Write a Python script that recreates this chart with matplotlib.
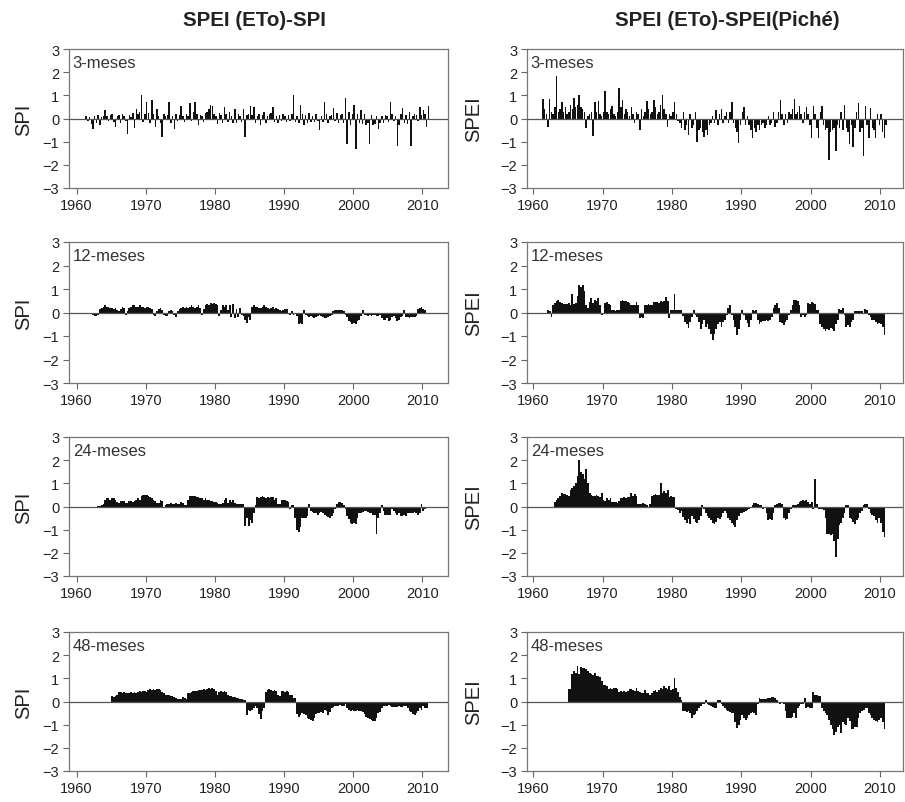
import numpy as np
import matplotlib
matplotlib.use("Agg")
import matplotlib.pyplot as plt

plt.rcParams['font.family'] = ['Liberation Sans', 'DejaVu Sans']

# quarterly values, one row per year
# SPEI(ETo) - SPI
spi_3_start = 1961.0
spi_3 = [
    0.00, 0.10, -0.10, 0.05,    -0.25, -0.45, 0.10, -0.20,   0.15, -0.30, 0.05, 0.10,
    0.35, 0.10, -0.10, 0.15,    0.20, -0.15, -0.35, 0.10,    0.15, -0.20, 0.20, 0.10,
    -0.10, -0.65, 0.15, 0.05,   0.25, -0.40, 0.40, 0.20,     0.30, 1.00, -0.15, 0.20,
    0.70, 0.25, -0.20, 0.80,    0.20, -0.35, 0.40, 0.10,     -0.20, -0.80, 0.20, 0.10,
    0.15, 0.70, -0.20, 0.10,    -0.45, 0.20, -0.10, 0.15,    0.55, 0.10, -0.15, 0.20,
    0.10, 0.65, -0.10, 0.30,    0.70, 0.20, -0.30, 0.15,     0.10, -0.15, 0.25, 0.30,
    0.40, 0.60, 0.55, 0.20,     0.10, -0.25, 0.25, 0.15,     -0.20, 0.50, 0.20, -0.15,
    0.30, 0.10, -0.20, 0.40,    -0.20, 0.20, 0.10, -0.15,    0.40, -0.80, 0.15, 0.20,
    0.55, 0.15, 0.50, -0.20,    0.10, 0.20, -0.30, 0.15,     0.30, -0.20, 0.10, 0.20,
    0.25, 0.50, -0.15, 0.10,    -0.20, 0.15, -0.10, 0.20,    0.10, -0.15, 0.15, -0.10,
    0.20, 1.00, -0.15, 0.10,    -0.20, 0.60, 0.20, -0.30,    0.15, -0.20, 0.25, -0.15,
    0.10, -0.15, 0.20, -0.10,   -0.50, 0.10, -0.15, 0.70,    0.20, -0.20, 0.10, 0.15,
    0.45, -0.10, 0.25, -0.20,   0.15, 0.20, -0.20, 0.90,     -1.10, 0.30, -0.30, 0.20,
    0.60, -1.30, 0.20, -0.20,   0.35, -0.25, 0.20, -0.30,    -0.20, -1.10, 0.15, -0.30,
    -0.25, 0.10, -0.45, -0.20,  0.10, -0.20, 0.15, 0.10,     -0.15, 0.70, 0.20, -0.10,
    0.10, -1.20, -0.30, 0.20,   0.45, -0.20, 0.15, -0.25,    0.30, -1.20, 0.10, 0.20,
    0.15, -0.10, 0.50, 0.15,    0.35, 0.20, -0.35, 0.55,
]
spi_12_start = 1962.0
spi_12 = [
    -0.05, -0.10, -0.15, -0.15,  -0.10, 0.15, 0.20, 0.25,    0.30, 0.25, 0.25, 0.20,
    0.20, 0.15, 0.20, 0.10,      0.05, 0.15, 0.25, 0.20,     -0.10, 0.05, 0.20, 0.25,
    0.30, 0.30, 0.25, 0.25,      0.30, 0.25, 0.25, 0.20,     0.25, 0.25, 0.20, 0.15,
    -0.10, -0.15, 0.05, 0.15,    0.20, 0.10, -0.10, -0.15,   -0.15, 0.05, 0.10, 0.05,
    -0.10, -0.20, 0.05, 0.15,    0.20, 0.25, 0.20, 0.25,     0.20, 0.25, 0.30, 0.25,
    0.20, 0.25, 0.30, 0.20,      -0.10, 0.15, 0.30, 0.35,    0.30, 0.40, 0.35, 0.40,
    0.35, 0.30, -0.15, 0.10,     0.30, 0.25, 0.30, 0.10,     0.30, -0.20, 0.35, -0.25,
    0.15, -0.20, 0.20, -0.10,    -0.15, -0.30, -0.45, -0.20, -0.30, 0.25, 0.30, 0.25,
    0.25, 0.20, 0.20, 0.25,      0.30, 0.25, 0.20, 0.15,     0.20, 0.25, 0.15, 0.20,
    0.15, 0.10, 0.05, 0.10,      0.15, 0.15, -0.05, -0.10,   0.05, -0.10, -0.05, -0.15,
    -0.50, -0.45, -0.50, 0.10,   -0.10, -0.15, -0.20, -0.15, -0.20, -0.25, -0.20, -0.15,
    -0.10, -0.15, -0.20, -0.25,  -0.25, -0.20, -0.15, -0.10, 0.05, 0.10, 0.10, 0.10,
    0.10, 0.10, 0.05, -0.10,     -0.20, -0.35, -0.40, -0.50, -0.45, -0.50, -0.35, -0.30,
    -0.15, 0.10, -0.10, -0.10,   -0.15, -0.10, -0.15, -0.10, -0.10, -0.15, -0.15, -0.10,
    -0.25, -0.30, -0.30, -0.25,  -0.35, -0.30, -0.20, -0.15, -0.25, -0.35, -0.30, -0.20,
    -0.15, 0.10, -0.20, -0.20,   -0.25, -0.20, -0.20, -0.20, -0.15, 0.15, 0.20, 0.25,
    0.15, 0.10,
]
spi_24_start = 1963.0
spi_24 = [
    0.02, 0.02, 0.05, 0.10,      0.30, 0.35, 0.35, 0.30,     0.35, 0.35, 0.30, 0.20,
    0.15, 0.25, 0.25, 0.25,      0.15, 0.15, 0.25, 0.25,     0.20, 0.25, 0.30, 0.35,
    0.30, 0.45, 0.50, 0.50,      0.50, 0.45, 0.40, 0.35,     0.30, 0.25, 0.15, 0.15,
    0.30, 0.25, -0.05, 0.05,     0.10, 0.10, 0.15, 0.10,     0.10, 0.15, 0.10, 0.10,
    0.20, 0.15, 0.05, 0.05,      0.30, 0.45, 0.45, 0.45,     0.45, 0.40, 0.40, 0.35,
    0.35, 0.30, 0.35, 0.30,      0.30, 0.25, 0.25, 0.20,     0.20, 0.15, 0.10, 0.10,
    0.15, 0.30, 0.35, 0.15,      0.30, 0.20, 0.30, 0.15,     0.10, 0.10, 0.10, 0.10,
    0.10, -0.85, -0.50, -0.85,   -0.60, -0.70, -0.30, 0.05,  0.40, 0.35, 0.40, 0.45,
    0.40, 0.35, 0.40, 0.35,      0.40, 0.40, 0.30, 0.35,     0.10, 0.10, 0.30, 0.30,
    0.30, 0.25, 0.20, -0.10,     0.05, 0.05, -0.50, -1.00,   -1.10, -0.90, -0.50, -0.50,
    -0.50, -0.40, 0.10, -0.20,   -0.25, -0.30, -0.30, -0.35, -0.30, -0.25, -0.30, -0.35,
    -0.40, -0.45, -0.50, -0.40,  -0.30, -0.10, 0.10, 0.20,   0.20, 0.15, 0.05, -0.10,
    -0.40, -0.55, -0.70, -0.75,  -0.70, -0.75, -0.50, -0.30, -0.30, -0.25, -0.20, -0.20,
    -0.25, -0.30, -0.30, -0.35,  -0.35, -1.20, -0.50, -0.30, 0.05, -0.20, -0.35, -0.35,
    -0.35, -0.35, -0.10, -0.20,  -0.30, -0.35, -0.30, -0.40, -0.40, -0.35, -0.40, -0.30,
    -0.30, -0.30, -0.30, -0.25,  -0.30, -0.35, -0.30, 0.10,  -0.20, -0.10,
]
spi_48_start = 1965.0
spi_48 = [
    0.25, 0.20, 0.25, 0.30,      0.40, 0.40, 0.35, 0.40,     0.35, 0.35, 0.35, 0.40,
    0.35, 0.40, 0.35, 0.40,      0.45, 0.40, 0.45, 0.45,     0.40, 0.50, 0.55, 0.50,
    0.55, 0.50, 0.55, 0.55,      0.50, 0.40, 0.35, 0.30,     0.30, 0.30, 0.25, 0.25,
    0.20, 0.15, 0.10, 0.10,      0.10, 0.20, 0.15, 0.10,     0.35, 0.35, 0.40, 0.45,
    0.45, 0.45, 0.50, 0.50,      0.50, 0.55, 0.50, 0.55,     0.60, 0.55, 0.60, 0.55,
    0.45, 0.30, 0.40, 0.45,      0.40, 0.45, 0.40, 0.30,     0.25, 0.25, 0.20, 0.20,
    0.15, 0.15, 0.10, 0.10,      0.05, 0.05, -0.60, -0.35,   -0.40, -0.35, -0.30, -0.20,
    -0.30, -0.55, -0.75, -0.40,  -0.30, 0.40, 0.50, 0.55,    0.50, 0.45, 0.50, 0.45,
    0.30, 0.25, 0.45, 0.45,      0.40, 0.45, 0.40, 0.30,     0.30, 0.15, 0.15, -0.55,
    -0.65, -0.60, -0.50, -0.55,  -0.60, -0.70, -0.75, -0.80, -0.85, -0.70, -0.55, -0.50,
    -0.50, -0.45, -0.50, -0.35,  -0.40, -0.60, -0.45, -0.30, -0.25, -0.20, -0.20, -0.20,
    -0.15, -0.20, -0.20, -0.10,  -0.30, -0.35, -0.40, -0.35, -0.40, -0.40, -0.35, -0.40,
    -0.40, -0.45, -0.55, -0.65,  -0.70, -0.75, -0.80, -0.85, -0.85, -0.70, -0.50, -0.45,
    -0.30, -0.20, -0.20, -0.20,  -0.15, -0.20, -0.25, -0.25, -0.25, -0.25, -0.20, -0.25,
    -0.25, -0.20, -0.20, -0.30,  -0.40, -0.45, -0.55, -0.60, -0.50, -0.40, -0.30, -0.35,
    -0.20, -0.30, -0.30,
]

# SPEI(ETo) - SPEI(Piché)
spei_3_start = 1961.0
spei_3 = [
    0.00, 0.85, 0.40, 0.20,      -0.35, 0.85, 0.30, 0.20,    0.50, 1.85, 0.30, 0.40,
    0.70, 0.30, 0.50, 0.20,      0.30, 0.60, 0.40, 0.90,     0.50, 0.60, 1.00, 0.50,
    0.40, 0.30, -0.40, 0.10,     0.20, 0.30, -0.75, 0.70,    0.30, 0.75, 0.20, 0.10,
    0.30, 1.20, 0.30, 0.20,      0.40, 0.55, 0.20, 0.10,     0.30, 1.30, 0.50, 0.80,
    0.20, 0.40, 0.30, 0.10,      0.50, 0.20, -0.20, 0.30,    0.20, -0.50, 0.40, 0.10,
    0.30, 0.75, 0.40, 0.20,      0.30, 0.80, 0.50, 0.20,     0.30, 0.60, 1.00, 0.40,
    0.20, -0.35, 0.20, 0.10,     0.30, 0.70, 0.20, -0.10,    -0.20, -0.40, 0.30, -0.50,
    -0.30, -0.70, 0.20, -0.40,   -0.30, 0.30, -1.00, -0.50,  -0.40, -0.60, -0.80, -0.50,
    -0.70, -0.30, -0.20, 0.10,   -0.20, 0.35, -0.30, 0.20,   0.40, -0.20, 0.10, 0.30,
    -0.20, 0.30, 0.70, -0.20,    -0.40, -0.60, -1.05, -0.30, 0.30, 0.50, -0.30, 0.10,
    -0.30, -0.50, -0.85, -0.40,  -0.60, -0.30, -0.50, -0.30, -0.20, -0.40, -0.30, 0.10,
    -0.30, -0.20, 0.30, -0.35,   -0.20, 0.30, 0.80, 0.20,    -0.30, 0.20, -0.20, 0.30,
    0.20, 0.40, 0.85, 0.20,      0.30, 0.55, 0.20, -0.20,    0.30, 0.50, 0.20, -0.30,
    -0.85, 0.55, 0.20, -0.40,    -0.85, 0.30, 0.55, -0.30,   -0.50, -0.40, -1.80, -0.60,
    -0.50, -0.40, -1.40, -0.30,  -0.40, 0.30, -0.50, 0.60,   -0.40, -0.60, -1.10, -0.30,
    -1.25, -0.40, 0.30, 0.65,    -0.60, -0.40, -1.60, 0.55,  -0.30, -0.85, 0.45, -0.40,
    -0.50, -0.85, 0.20, -0.30,   0.20, -0.60, -0.85, -0.30,
]
spei_12_start = 1962.0
spei_12 = [
    0.10, 0.05, -0.20, 0.30,     0.40, 0.50, 0.55, 0.45,     0.40, 0.35, 0.35, 0.35,
    0.40, 0.30, 0.80, 0.35,      0.40, 0.70, 1.15, 1.10,     1.15, 0.90, 0.30, 0.20,
    0.45, 0.60, 0.40, 0.55,      0.50, 0.60, 0.30, -0.10,    -0.05, 0.40, 0.45, 0.35,
    0.30, 0.10, 0.10, 0.05,      0.10, 0.10, 0.50, 0.55,     0.50, 0.50, 0.45, 0.40,
    0.30, 0.30, 0.30, 0.45,      0.30, -0.25, -0.20, -0.25,  0.30, 0.30, 0.35, 0.30,
    0.30, 0.45, 0.45, 0.45,      0.40, 0.50, 0.45, 0.50,     0.65, 0.50, -0.25, 0.10,
    0.10, 0.80, 0.10, 0.10,      0.10, 0.10, -0.15, -0.40,   -0.50, -0.65, -0.40, -0.20,
    0.10, -0.10, -0.20, -0.40,   -0.70, -0.50, -0.30, -0.60, -0.50, -0.70, -0.90, -1.15,
    -0.90, -0.70, -0.50, -0.40,  -0.60, -0.40, -0.30, -0.10, 0.20, 0.30, -0.10, -0.30,
    -0.60, -0.95, -0.70, -0.30,  0.10, -0.10, -0.30, -0.45,  -0.60, -0.30, 0.10, 0.05,
    0.10, -0.30, -0.50, -0.40,   -0.35, -0.35, -0.30, -0.35, -0.30, -0.20, 0.20, 0.30,
    0.40, 0.20, -0.40, -0.45,    -0.55, -0.40, -0.30, -0.10, 0.10, 0.30, 0.55, 0.55,
    0.50, 0.30, -0.20, -0.10,    -0.20, -0.10, 0.40, 0.35,   0.45, 0.40, 0.35, 0.10,
    0.10, -0.50, -0.60, -0.70,   -0.80, -0.70, -0.75, -0.65, -0.70, -0.80, -0.50, -0.30,
    0.15, 0.10, 0.20, -0.10,     -0.60, -0.55, -0.60, -0.40, -0.30, 0.05, 0.05, 0.05,
    0.05, 0.05, -0.05, 0.15,     0.10, -0.10, -0.20, -0.30,  -0.30, -0.40, -0.50, -0.45,
    -0.50, -0.60, -0.95,
]
spei_24_start = 1963.0
spei_24 = [
    0.20, 0.30, 0.35, 0.45,      0.60, 0.55, 0.55, 0.50,     0.45, 0.70, 0.80, 0.90,
    1.00, 1.30, 2.00, 1.50,      1.40, 1.20, 1.60, 1.00,     0.60, 0.50, 0.45, 0.45,
    0.50, 0.45, 0.40, 0.60,      0.30, 0.25, 0.35, 0.30,     0.35, 0.20, 0.20, 0.20,
    0.15, 0.25, 0.35, 0.35,      0.40, 0.35, 0.40, 0.40,     0.60, 0.45, 0.55, 0.45,
    0.10, 0.10, 0.10, 0.15,      0.10, 0.05, -0.05, 0.10,    0.45, 0.50, 0.55, 0.50,
    0.50, 1.00, 0.60, 0.65,      0.60, 0.70, 0.40, 0.45,     0.40, 0.40, -0.10, -0.15,
    -0.30, -0.20, -0.45, -0.60,  -0.70, -0.55, -0.75, -0.40, -0.55, -0.65, -0.70, -0.60,
    -0.40, 0.05, -0.10, -0.30,   -0.40, -0.50, -0.60, -0.70, -0.75, -0.65, -0.50, -0.55,
    -0.45, -0.30, -0.20, -0.30,  -0.50, -0.60, -0.70, -0.80, -0.90, -0.60, -0.40, -0.30,
    -0.30, -0.25, -0.20, -0.15,  -0.10, -0.05, 0.05, 0.15,   0.15, 0.10, 0.05, 0.05,
    -0.10, -0.05, -0.30, -0.60,  -0.55, -0.60, -0.30, 0.05,  0.10, 0.15, 0.15, 0.10,
    -0.50, -0.60, -0.55, -0.30,  -0.10, 0.05, 0.05, 0.05,    0.10, 0.20, 0.25, 0.30,
    0.25, 0.30, 0.20, 0.10,      0.20, -0.10, 1.20, 0.10,    -0.10, -0.10, -0.10, -0.15,
    -0.50, -1.20, -1.20, -1.25,  -1.20, -1.50, -2.20, -1.40, -0.80, -0.70, -0.50, -0.30,
    0.05, 0.05, -0.50, -0.55,    -0.65, -0.75, -0.60, -0.50, -0.30, -0.20, 0.05, 0.10,
    0.10, -0.10, -0.30, -0.35,   -0.40, -0.60, -0.70, -0.50, -0.70, -1.10, -1.30,
]
spei_48_start = 1965.0
spei_48 = [
    0.55, 0.55, 1.20, 1.30,      1.25, 1.55, 1.20, 1.50,     1.45, 1.45, 1.40, 1.30,
    1.25, 1.20, 1.15, 1.25,      1.10, 1.10, 1.05, 0.90,     0.70, 0.70, 0.65, 0.55,
    0.60, 0.55, 0.60, 0.60,      0.55, 0.40, 0.45, 0.40,     0.45, 0.40, 0.45, 0.55,
    0.55, 0.50, 0.45, 0.60,      0.45, 0.40, 0.35, 0.35,     0.50, 0.35, 0.35, 0.30,
    0.35, 0.45, 0.50, 0.40,      0.50, 0.60, 0.55, 0.65,     0.60, 0.55, 0.65, 0.50,
    0.55, 1.00, 0.60, 0.40,      0.20, 0.05, -0.40, -0.40,   -0.45, -0.40, -0.50, -0.70,
    -0.60, -0.55, -0.40, -0.30,  -0.20, -0.10, -0.10, 0.05,  -0.10, -0.15, -0.20, -0.25,
    -0.30, -0.30, 0.05, 0.05,    -0.10, -0.20, -0.30, -0.35, -0.40, -0.45, -0.50, -0.50,
    -0.90, -1.15, -1.00, -0.80,  -0.60, -0.70, -0.80, -0.70, -0.60, -0.50, -0.45, -0.50,
    -0.60, -0.10, 0.15, 0.10,    0.10, 0.10, 0.10, 0.15,     0.15, 0.20, 0.20, 0.15,
    0.05, -0.05, -0.10, -0.05,   -0.10, -0.40, -0.70, -0.70, -0.70, -0.65, -0.50, -0.70,
    -0.30, -0.20, -0.10, -0.10,  0.15, -0.30, -0.25, -0.30,  -0.30, 0.40, 0.30, 0.30,
    0.25, 0.25, -0.30, -0.40,    -0.50, -0.60, -0.80, -1.00, -1.20, -1.45, -1.30, -1.10,
    -1.00, -1.35, -0.90, -0.95,  -1.00, -0.70, -0.85, -1.20, -1.20, -1.10, -1.10, -0.70,
    -0.50, -0.40, -0.35, -0.30,  -0.30, -0.50, -0.60, -0.70, -0.80, -0.85, -0.90, -0.80,
    -0.70, -0.90, -1.20,
]

escalas = ['3-meses', '12-meses', '24-meses', '48-meses']
col_titles = ['SPEI (ETo)-SPI', 'SPEI (ETo)-SPEI(Piché)']
col_ylabels = ['SPI', 'SPEI']
series = [
    [(spi_3_start, spi_3), (spei_3_start, spei_3)],
    [(spi_12_start, spi_12), (spei_12_start, spei_12)],
    [(spi_24_start, spi_24), (spei_24_start, spei_24)],
    [(spi_48_start, spi_48), (spei_48_start, spei_48)],
]

# layout in figure fractions (from the 905x803 reference)
W, H = 905, 803
col_left = [69, 527]
col_width = [379, 376]
row_top = [50, 243, 438, 633]
row_height = [139, 141, 139, 139]
col_xlim = [(1958.9, 2013.7), (1959.1, 2013.3)]
ylabel_x = [-0.095, -0.117]

fig = plt.figure(figsize=(W / 100, H / 100), dpi=100)

for r in range(4):
    for c in range(2):
        left = col_left[c] / W
        bottom = 1 - (row_top[r] + row_height[r]) / H
        ax = fig.add_axes([left, bottom, col_width[c] / W, row_height[r] / H])
        start, vals = series[r][c]
        x = start + 0.125 + 0.25 * np.arange(len(vals))
        width = 0.21 if r == 0 else 0.26
        ax.bar(x, vals, width=width, color='#111111', linewidth=0)
        ax.axhline(0, color='#555555', lw=0.9, zorder=3)

        ax.set_xlim(*col_xlim[c])
        ax.set_ylim(-3, 3)
        ax.set_xticks([1960, 1970, 1980, 1990, 2000, 2010])
        ax.set_yticks([-3, -2, -1, 0, 1, 2, 3])
        ax.tick_params(direction='out', length=4, width=0.8, color='#666666',
                       labelsize=10.5, labelcolor='#222222', pad=3)
        for sp in ax.spines.values():
            sp.set_color('#777777')
            sp.set_linewidth(0.9)

        ax.set_ylabel(col_ylabels[c], fontsize=14.5, color='#222222')
        ax.yaxis.set_label_coords(ylabel_x[c], 0.5)
        ax.text(0.01, 0.955, escalas[r], transform=ax.transAxes, ha='left', va='top',
                fontsize=12, color='#333333')

fig.text(254 / W, 1 - 20 / H, col_titles[0], ha='center', va='center',
         fontsize=14.8, fontweight='bold', color='#222222')
fig.text(727 / W, 1 - 20 / H, col_titles[1], ha='center', va='center',
         fontsize=14.8, fontweight='bold', color='#222222')

fig.savefig('out.png', dpi=100)
